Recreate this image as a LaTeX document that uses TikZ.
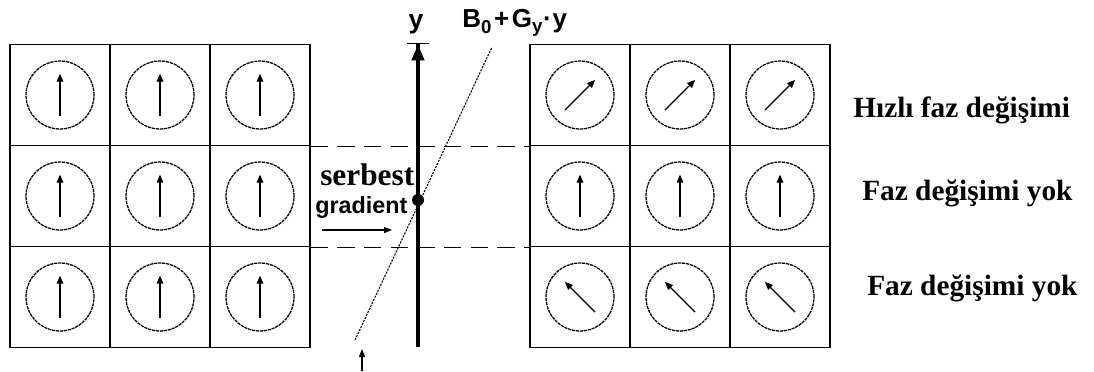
\documentclass[tikz,border=0pt]{standalone}
\usepackage{fontspec}
\setmainfont{Liberation Serif}
\setsansfont{Liberation Sans}
\usetikzlibrary{arrows.meta}

\tikzset{
  cell/.style={draw,rectangle,line width=1.1pt,minimum width=75pt,minimum height=75.75pt,inner sep=0pt},
  spin/.style={path picture={
      \draw[line width=0.95pt,dash pattern=on 2.4pt off 0.6pt] (path picture bounding box.center) circle[radius=25.5pt];
      \draw[line width=0.9pt,-{Triangle[length=6pt,width=5pt]},shift={(path picture bounding box.center)}] (#1+180:16pt) -- (#1:16pt);
    }},
  slice/.style={line width=1.1pt,dash pattern=on 13pt off 7pt},
  axis/.style={line width=3pt,-{Triangle[length=12pt,width=9pt]Bar[width=16pt,line width=1pt]}},
  field/.style={line width=0.8pt,dash pattern=on 1.6pt off 0.9pt},
  small arrow/.style={line width=0.9pt,-{Triangle[length=6pt,width=4.5pt]}},
  rowlabel/.style={anchor=base west,inner sep=0pt,font=\fontsize{22}{22}\selectfont\bfseries}
}

\begin{document}
\begin{tikzpicture}[x=0.75pt,y=-0.75pt]
\useasboundingbox (0,0) rectangle (1094,371);

%========================
% Left grid (before gradient)
%========================
\node[cell,spin=90] (a11) at (60,95) {};
\node[cell,spin=90] (a12) at (160,95) {};
\node[cell,spin=90] (a13) at (260,95) {};
\node[cell,spin=90] (a21) at (60,196) {};
\node[cell,spin=90] (a22) at (160,196) {};
\node[cell,spin=90] (a23) at (260,196) {};
\node[cell,spin=90] (a31) at (60,297) {};
\node[cell,spin=90] (a32) at (160,297) {};
\node[cell,spin=90] (a33) at (260,297) {};

%========================
% Right grid (after gradient)
%========================
\node[cell,spin=45] (b11) at (580,95) {};
\node[cell,spin=45] (b12) at (680,95) {};
\node[cell,spin=45] (b13) at (780,95) {};
\node[cell,spin=90] (b21) at (580,196) {};
\node[cell,spin=90] (b22) at (680,196) {};
\node[cell,spin=90] (b23) at (780,196) {};
\node[cell,spin=135] (b31) at (580,297) {};
\node[cell,spin=135] (b32) at (680,297) {};
\node[cell,spin=135] (b33) at (780,297) {};

% Slice borders
\draw[slice] (a13.south east) -- (b11.south west);
\draw[slice] (a23.south east) -- (b21.south west);

%========================
% Gradient axis
%========================
\coordinate (ybot) at (418,347);
\coordinate (ytop) at (418,43);
\draw[axis] (ybot) -- (ytop);
\node[anchor=base,inner sep=0pt,font=\sffamily\bfseries\fontsize{20}{20}\selectfont] (ylab) at (416,28) {y};

% Field line
\coordinate (g0) at (355,340);
\coordinate (g1) at (492,47);
\draw[field] (g0) -- (g1);
\node[circle,fill,inner sep=0pt,minimum size=9pt] (iso) at (418,200) {};
\node[anchor=base west,inner sep=0pt,font=\sffamily\bfseries\fontsize{19.5}{19.5}\selectfont] (blab) at (462,27)
  {B\raisebox{-5pt}{\fontsize{14}{14}\selectfont 0}\kern2pt+\kern2ptG\raisebox{-4pt}{\fontsize{14}{14}\selectfont y}\kern0.5pt·\kern0.5pty};

% Free gradient label
\node[anchor=base west,inner sep=0pt,font=\fontsize{23.5}{23.5}\selectfont\bfseries] (free) at (320,185) {serbest};
\node[anchor=base west,inner sep=0pt,font=\sffamily\bfseries\fontsize{17.5}{17.5}\selectfont] (grad) at (315,213) {gradient};
\coordinate (h0) at (322,230);
\coordinate (h1) at (392,230);
\draw[small arrow] (h0) -- (h1);

% Bottom marker
\coordinate (f0) at (362,371);
\coordinate (f1) at (362,349);
\draw[small arrow] (f0) -- (f1);

% Row labels
\node[rowlabel] (r1) at (853,117) {Hızlı faz değişimi};
\node[rowlabel] (r2) at (862,200) {Faz değişimi yok};
\node[rowlabel] (r3) at (867,295) {Faz değişimi yok};

\end{tikzpicture}
\end{document}
